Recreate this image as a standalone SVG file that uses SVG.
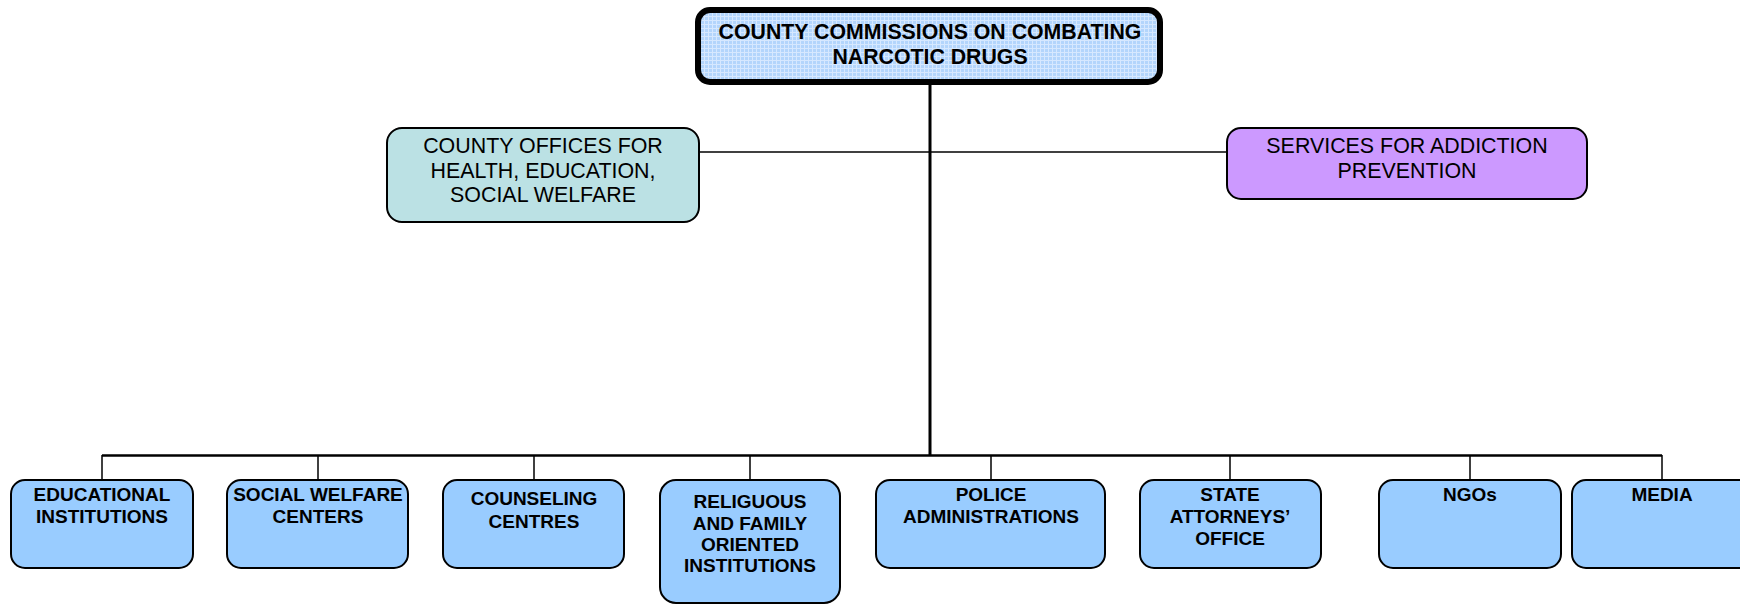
<svg xmlns="http://www.w3.org/2000/svg" width="1740" height="604" viewBox="0 0 1740 604">
<defs>
<pattern id="grid" width="4" height="4" patternUnits="userSpaceOnUse">
<rect width="4" height="4" fill="#B3D5FC"/>
<path d="M0 0.5H4M0.5 0V4" stroke="#D6E8FF" stroke-width="1"/>
</pattern>
</defs>
<style>
.t{font-family:"Liberation Sans",Arial,sans-serif;text-anchor:middle;fill:#000}
.b{font-weight:bold;font-size:19px}
.n{font-size:21.4px}
.box{fill:#99CCFF;stroke:#000;stroke-width:2}
.ln{stroke:#000;fill:none}
</style>
<g id="connectors">
<line class="ln" x1="930" y1="84" x2="930" y2="456" stroke-width="3"/>
<line class="ln" x1="699" y1="152" x2="1227" y2="152" stroke-width="1.5"/>
<line class="ln" x1="102" y1="455.5" x2="1662" y2="455.5" stroke-width="2.5"/>
<line class="ln" x1="102" y1="455" x2="102" y2="480" stroke-width="1.5"/>
<line class="ln" x1="318" y1="455" x2="318" y2="480" stroke-width="1.5"/>
<line class="ln" x1="534" y1="455" x2="534" y2="480" stroke-width="1.5"/>
<line class="ln" x1="750" y1="455" x2="750" y2="480" stroke-width="1.5"/>
<line class="ln" x1="991" y1="455" x2="991" y2="480" stroke-width="1.5"/>
<line class="ln" x1="1230" y1="455" x2="1230" y2="480" stroke-width="1.5"/>
<line class="ln" x1="1470" y1="455" x2="1470" y2="480" stroke-width="1.5"/>
<line class="ln" x1="1662" y1="455" x2="1662" y2="480" stroke-width="1.5"/>
</g>
<g id="top">
<rect x="698" y="10" width="462" height="72" rx="12" fill="url(#grid)" stroke="#000" stroke-width="6"/>
<text class="t" x="930" y="38.5" font-size="21.3" font-weight="bold">COUNTY COMMISSIONS ON COMBATING</text>
<text class="t" x="930" y="64" font-size="21.3" font-weight="bold">NARCOTIC DRUGS</text>
</g>
<g id="county-offices">
<rect x="387" y="128" width="312" height="94" rx="15" fill="#BBE1E4" stroke="#000" stroke-width="2"/>
<text class="t n" x="543" y="153">COUNTY OFFICES FOR</text>
<text class="t n" x="543" y="178">HEALTH, EDUCATION,</text>
<text class="t n" x="543" y="202">SOCIAL WELFARE</text>
</g>
<g id="services">
<rect x="1227" y="128" width="360" height="71" rx="14" fill="#CC99FF" stroke="#000" stroke-width="2"/>
<text class="t n" x="1407" y="153">SERVICES FOR ADDICTION</text>
<text class="t n" x="1407" y="178">PREVENTION</text>
</g>
<g id="educational">
<rect class="box" x="11" y="480" width="182" height="88" rx="14"/>
<text class="t b" x="102" y="501">EDUCATIONAL</text>
<text class="t b" x="102" y="523">INSTITUTIONS</text>
</g>
<g id="social-welfare">
<rect class="box" x="227" y="480" width="181" height="88" rx="14"/>
<text class="t b" x="318" y="501">SOCIAL WELFARE</text>
<text class="t b" x="318" y="523">CENTERS</text>
</g>
<g id="counseling">
<rect class="box" x="443" y="480" width="181" height="88" rx="14"/>
<text class="t b" x="534" y="505">COUNSELING</text>
<text class="t b" x="534" y="528">CENTRES</text>
</g>
<g id="religious">
<rect class="box" x="660" y="480" width="180" height="123" rx="16"/>
<text class="t b" x="750" y="508">RELIGUOUS</text>
<text class="t b" x="750" y="530">AND FAMILY</text>
<text class="t b" x="750" y="551">ORIENTED</text>
<text class="t b" x="750" y="572">INSTITUTIONS</text>
</g>
<g id="police">
<rect class="box" x="876" y="480" width="229" height="88" rx="14"/>
<text class="t b" x="991" y="501">POLICE</text>
<text class="t b" x="991" y="523">ADMINISTRATIONS</text>
</g>
<g id="state-attorneys">
<rect class="box" x="1140" y="480" width="181" height="88" rx="14"/>
<text class="t b" x="1230" y="501">STATE</text>
<text class="t b" x="1230" y="523">ATTORNEYS’</text>
<text class="t b" x="1230" y="545">OFFICE</text>
</g>
<g id="ngos">
<rect class="box" x="1379" y="480" width="182" height="88" rx="14"/>
<text class="t b" x="1470" y="501">NGOs</text>
</g>
<g id="media">
<rect class="box" x="1572" y="480" width="182" height="88" rx="14"/>
<text class="t b" x="1662" y="501">MEDIA</text>
</g>
</svg>
